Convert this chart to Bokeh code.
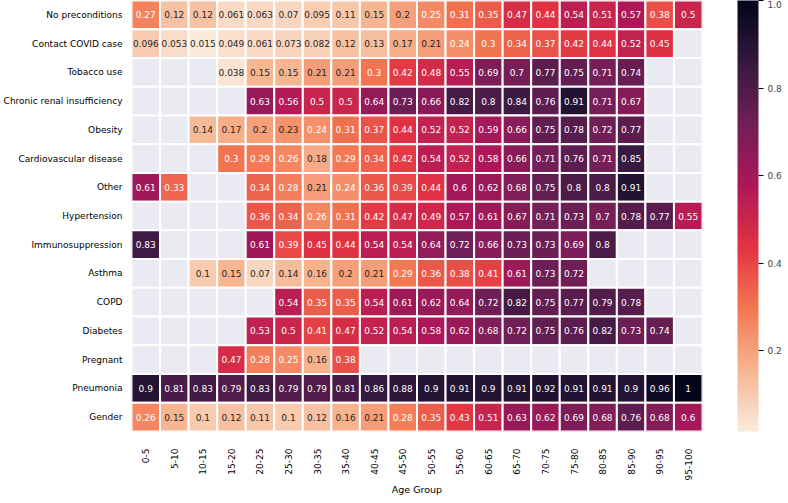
import math
import numpy as np
from bokeh.plotting import figure
from bokeh.models import (ColumnDataSource, LinearColorMapper, ColorBar, FixedTicker, FactorRange,
                          PrintfTickFormatter)
from bokeh.transform import transform
from bokeh.core.properties import value
from bokeh.embed import file_html
from bokeh.resources import INLINE

N = float("nan")

ages = ["0-5", "5-10", "10-15", "15-20", "20-25", "25-30", "30-35", "35-40", "40-45", "45-50",
        "50-55", "55-60", "60-65", "65-70", "70-75", "75-80", "80-85", "85-90", "90-95", "95-100"]

conditions = ["No preconditions", "Contact COVID case", "Tobacco use", "Chronic renal insufficiency",
              "Obesity", "Cardiovascular disease", "Other", "Hypertension", "Immunosuppression",
              "Asthma", "COPD", "Diabetes", "Pregnant", "Pneumonia", "Gender"]

no_preconditions = [0.27, 0.12, 0.12, 0.061, 0.063, 0.07, 0.095, 0.11, 0.15, 0.2, 0.25, 0.31, 0.35, 0.47, 0.44, 0.54, 0.51, 0.57, 0.38, 0.5]
contact_covid = [0.096, 0.053, 0.015, 0.049, 0.061, 0.073, 0.082, 0.12, 0.13, 0.17, 0.21, 0.24, 0.3, 0.34, 0.37, 0.42, 0.44, 0.52, 0.45, N]
tobacco = [N, N, N, 0.038, 0.15, 0.15, 0.21, 0.21, 0.3, 0.42, 0.48, 0.55, 0.69, 0.7, 0.77, 0.75, 0.71, 0.74, N, N]
renal = [N, N, N, N, 0.63, 0.56, 0.5, 0.5, 0.64, 0.73, 0.66, 0.82, 0.8, 0.84, 0.76, 0.91, 0.71, 0.67, N, N]
obesity = [N, N, 0.14, 0.17, 0.2, 0.23, 0.24, 0.31, 0.37, 0.44, 0.52, 0.52, 0.59, 0.66, 0.75, 0.78, 0.72, 0.77, N, N]
cardio = [N, N, N, 0.3, 0.29, 0.26, 0.18, 0.29, 0.34, 0.42, 0.54, 0.52, 0.58, 0.66, 0.71, 0.76, 0.71, 0.85, N, N]
other = [0.61, 0.33, N, N, 0.34, 0.28, 0.21, 0.24, 0.36, 0.39, 0.44, 0.6, 0.62, 0.68, 0.75, 0.8, 0.8, 0.91, N, N]
hypertension = [N, N, N, N, 0.36, 0.34, 0.26, 0.31, 0.42, 0.47, 0.49, 0.57, 0.61, 0.67, 0.71, 0.73, 0.7, 0.78, 0.77, 0.55]
immuno = [0.83, N, N, N, 0.61, 0.39, 0.45, 0.44, 0.54, 0.54, 0.64, 0.72, 0.66, 0.73, 0.73, 0.69, 0.8, N, N, N]
asthma = [N, N, 0.1, 0.15, 0.07, 0.14, 0.16, 0.2, 0.21, 0.29, 0.36, 0.38, 0.41, 0.61, 0.73, 0.72, N, N, N, N]
copd = [N, N, N, N, N, 0.54, 0.35, 0.35, 0.54, 0.61, 0.62, 0.64, 0.72, 0.82, 0.75, 0.77, 0.79, 0.78, N, N]
diabetes = [N, N, N, N, 0.53, 0.5, 0.41, 0.47, 0.52, 0.54, 0.58, 0.62, 0.68, 0.72, 0.75, 0.76, 0.82, 0.73, 0.74, N]
pregnant = [N, N, N, 0.47, 0.28, 0.25, 0.16, 0.38, N, N, N, N, N, N, N, N, N, N, N, N]
pneumonia = [0.9, 0.81, 0.83, 0.79, 0.83, 0.79, 0.79, 0.81, 0.86, 0.88, 0.9, 0.91, 0.9, 0.91, 0.92, 0.91, 0.91, 0.9, 0.96, 1.0]
gender = [0.26, 0.15, 0.1, 0.12, 0.11, 0.1, 0.12, 0.16, 0.21, 0.28, 0.35, 0.43, 0.51, 0.63, 0.62, 0.69, 0.68, 0.76, 0.68, 0.6]

rows = [no_preconditions, contact_covid, tobacco, renal, obesity, cardio, other, hypertension,
        immuno, asthma, copd, diabetes, pregnant, pneumonia, gender]

colorbar_ticks = [0.2, 0.4, 0.6, 0.8, 1.0]

# approximate seaborn "rocket" colormap, reversed ("rocket_r")
anchors = [(0.0, "#03051a"), (1 / 7, "#35193e"), (2 / 7, "#701f57"), (3 / 7, "#ad1759"),
           (4 / 7, "#e13342"), (5 / 7, "#f37651"), (6 / 7, "#f6b48f"), (1.0, "#faebdd")]


def hex2rgb(h):
    return np.array([int(h[i:i + 2], 16) for i in (1, 3, 5)], dtype=float)


pos = np.array([a[0] for a in anchors])
cols = np.array([hex2rgb(a[1]) for a in anchors])
t = np.linspace(0, 1, 256)
rocket = []
for tt in t:
    rgb = [np.interp(tt, pos, cols[:, k]) for k in range(3)]
    rocket.append("#%02x%02x%02x" % tuple(int(round(c)) for c in rgb))
rocket_r = rocket[::-1]

all_vals = np.array([v for r in rows for v in r], dtype=float)
vmin = float(np.nanmin(all_vals))
vmax = float(np.nanmax(all_vals))

mapper = LinearColorMapper(palette=rocket_r, low=vmin, high=vmax, nan_color="#eaeaf2")

xs, ys, vals, labels, tcolors = [], [], [], [], []
for cond, r in zip(conditions, rows):
    for age, v in zip(ages, r):
        xs.append(age)
        ys.append(cond)
        vals.append(v)
        if np.isnan(v):
            labels.append("")
            tcolors.append("#262626")
        else:
            labels.append(f"{v:.2g}")
            tcolors.append("#ffffff" if v >= 0.235 else "#262626")

src = ColumnDataSource(dict(x=xs, y=ys, v=np.array(vals, dtype=float), label=labels, tc=tcolors))

FONT = "DejaVu Sans"

p = figure(x_range=FactorRange(factors=ages, range_padding=0),
           y_range=FactorRange(factors=conditions[::-1], range_padding=0),
           frame_width=571, frame_height=431,
           min_border_left=124, min_border_top=0, min_border_right=0, min_border_bottom=0,
           output_backend="svg", toolbar_location=None)

p.rect(x="x", y="y", width=1, height=1, source=src,
       fill_color=transform("v", mapper), line_color="white", line_width=2)

p.text(x="x", y="y", text="label", source=src, text_color="tc",
       text_align="center", text_baseline="middle",
       text_font_size="9px", text_font=value(FONT))

p.outline_line_color = None
p.xgrid.grid_line_color = None
p.ygrid.grid_line_color = None
p.background_fill_color = "white"
p.border_fill_color = "white"

for ax in (p.xaxis[0], p.yaxis[0]):
    ax.axis_line_color = None
    ax.major_tick_line_color = None
    ax.minor_tick_line_color = None
    ax.major_tick_out = 0
    ax.major_tick_in = 0
    ax.major_label_text_font = FONT
    ax.major_label_text_font_size = "9px"
    ax.major_label_text_color = "#000000"

p.xaxis.major_label_orientation = math.pi / 2
p.xaxis.major_label_standoff = 17
p.yaxis.major_label_standoff = 9
p.xaxis.axis_label = "Age Group"
p.xaxis.axis_label_text_font = FONT
p.xaxis.axis_label_text_font_style = "normal"
p.xaxis.axis_label_text_font_size = "9.5px"
p.xaxis.axis_label_text_color = "#000000"
p.xaxis.axis_label_standoff = 1

cb = ColorBar(color_mapper=mapper, ticker=FixedTicker(ticks=colorbar_ticks),
              formatter=PrintfTickFormatter(format="%.1f"),
              width=21, height=431, padding=0, margin=0,
              border_line_color=None, background_fill_color=None, bar_line_color=None,
              major_tick_out=5, major_tick_in=0, major_tick_line_color="black",
              minor_tick_line_color=None,
              major_label_text_font=FONT, major_label_text_font_size="9px",
              label_standoff=4, location=(35, 0))
p.add_layout(cb, "right")

open("out.html", "w").write(file_html(p, INLINE))
